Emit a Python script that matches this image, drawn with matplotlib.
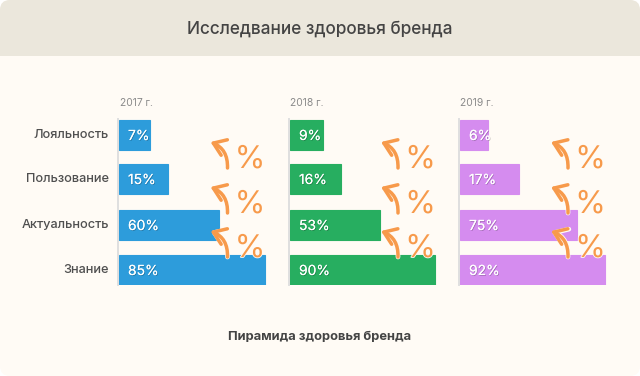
import matplotlib
matplotlib.use('Agg')
import matplotlib.pyplot as plt
import matplotlib.patheffects as pe
from matplotlib.patches import FancyBboxPatch, Rectangle, FancyArrowPatch

plt.rcParams['font.family'] = ['Inter', 'DejaVu Sans']

# Data
title = 'Исследвание здоровья бренда'
subtitle = 'Пирамида здоровья бренда'
categories = ['Лояльность', 'Пользование', 'Актуальность', 'Знание']
years = ['2017 г.', '2018 г.', '2019 г.']
colors = ['#2D9CDB', '#27AE60', '#D58CEF']
labels_2017 = ['7%', '15%', '60%', '85%']
labels_2018 = ['9%', '16%', '53%', '90%']
labels_2019 = ['6%', '17%', '75%', '92%']
# drawn bar lengths are not proportional to the labels in the original
lengths_2017 = [31, 49, 100, 146]
lengths_2018 = [33, 51, 90, 145]
lengths_2019 = [28, 59, 117, 145]

W, H = 640, 376
fig = plt.figure(figsize=(6.4, 3.76), dpi=100, facecolor='white')

# Card and header drawn on a pixel sized backdrop
bg = fig.add_axes([0, 0, 1, 1])
bg.set_xlim(0, W)
bg.set_ylim(H, 0)
bg.axis('off')
bg.add_patch(FancyBboxPatch((0, 0), W, H, boxstyle='round,pad=0,rounding_size=10', fc='#FFFBF5', ec='none'))
bg.add_patch(FancyBboxPatch((0, 0), W, 80, boxstyle='round,pad=0,rounding_size=10', fc='#EBE7DC', ec='none'))
bg.add_patch(Rectangle((0, 56), W, 30, fc='#FFFBF5', ec='none'))
bg.text(320, 29, title, ha='center', va='center', fontsize=12.4, fontweight=500, color='#444444')
bg.text(320, 337, subtitle, ha='center', va='center', fontsize=9.3, fontweight='bold', color='#444444')

row_pos = [0, 44, 90, 135]
bar_h = 31
panel_x = [119, 290, 460]
panel_w = 150
top = 119
height = 166

series = [(labels_2017, lengths_2017), (labels_2018, lengths_2018), (labels_2019, lengths_2019)]

for i, (labels, lengths) in enumerate(series):
    ax = fig.add_axes([panel_x[i] / W, 1 - (top + height) / H, panel_w / W, height / H])
    ax.set_xlim(0, panel_w)
    ax.set_ylim(height, 0)
    ax.patch.set_alpha(0)
    for s in ax.spines.values():
        s.set_visible(False)
    ax.set_xticks([])
    ax.set_yticks([])
    ys = [p + bar_h / 2 for p in row_pos]
    ax.barh(ys, lengths, height=bar_h - 1, color=colors[i], edgecolor=colors[i], linewidth=0.8)
    for y, lab in zip(ys, labels):
        ax.text(9, y + 1.5, lab, va='center', ha='left', fontsize=10, color='white',
                path_effects=[pe.withSimplePatchShadow(offset=(0.6, -0.6), shadow_rgbFace='#000000', alpha=0.22),
                              pe.Normal()])
    bg.plot([panel_x[i] - 1, panel_x[i] - 1], [top, top + height], color='#DFDFDF', lw=1.4, zorder=1)
    bg.text(panel_x[i] + 0.5, 103, years[i], fontsize=7.4, color='#8A8A8A', va='center', ha='left')

for y, cat in zip(row_pos, categories):
    bg.text(109, top + y + 16, cat, ha='right', va='center', fontsize=9.2, fontweight=500, color='#4F4F4F')

# Overlay with the orange arrows and percent signs
over = fig.add_axes([0, 0, 1, 1])
over.set_xlim(0, W)
over.set_ylim(H, 0)
over.axis('off')
orange = '#F79A4B'
for x0 in [227.5, 398, 568]:
    for y0 in [168, 213, 257]:
        for col, lw in [('#FFFBF5', 3.4), (orange, 2.5)]:
            arrow = FancyArrowPatch((x0, y0), (x0 - 17, y0 - 26), connectionstyle='arc3,rad=0.35',
                                    arrowstyle='->,head_length=0.85,head_width=0.6', mutation_scale=10,
                                    lw=lw, color=col, capstyle='round', joinstyle='round',
                                    shrinkA=0, shrinkB=0)
            over.add_patch(arrow)
        over.text(x0 + 22.5, y0 - 8, '%', ha='center', va='center', fontsize=22.5, color=orange,
                  path_effects=[pe.withStroke(linewidth=1.2, foreground='#FFFBF5')])

fig.savefig('out.png', dpi=100)
